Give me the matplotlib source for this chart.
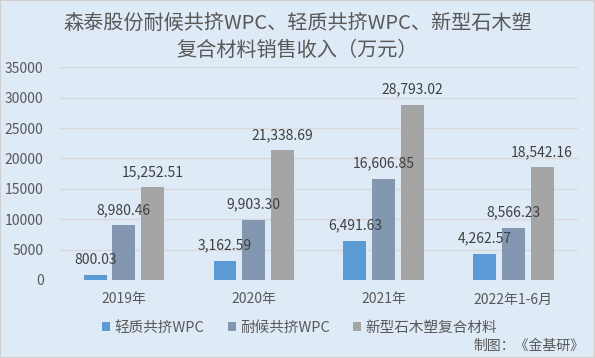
import numpy as np
import matplotlib
matplotlib.use('Agg')
import matplotlib.pyplot as plt
from matplotlib.patches import Rectangle

plt.rcParams['font.family'] = ['Noto Sans CJK SC', 'DejaVu Sans']

years = ['2019年', '2020年', '2021年', '2022年1-6月']
light = [800.03, 3162.59, 6491.63, 4262.57]
weather = [8980.46, 9903.30, 16606.85, 8566.23]
newwood = [15252.51, 21338.69, 28793.02, 18542.16]
names = ['轻质共挤WPC', '耐候共挤WPC', '新型石木塑复合材料']
colors = ['#5B9BD5', '#8497B0', '#A5A5A5']
bg = '#DEEAF6'
txt = '#595959'

fig = plt.figure(figsize=(5.95, 3.58), dpi=100, facecolor=bg)
ax = fig.add_axes([0.099, 0.218, 0.873, 0.594])
ax.set_facecolor(bg)

x = np.arange(len(years))
w = 0.177
step = 0.221
for i, (vals, name, c) in enumerate(zip([light, weather, newwood], names, colors)):
    pos = x + (i - 1) * step
    ax.bar(pos, vals, width=w, color=c, label=name, zorder=3)
    for xx, v in zip(pos, vals):
        ax.annotate(f'{v:,.2f}', (xx, v), xytext=(0, 6), textcoords='offset points',
                    ha='center', va='bottom', fontsize=10, color='#404040', zorder=6)

ax.set_ylim(0, 35000)
ax.set_xlim(-0.5, 3.5)
ax.set_yticks(np.arange(0, 35001, 5000))
ax.yaxis.grid(True, color='#D9D9D9', linewidth=1, zorder=0)
ax.set_axisbelow(True)
for s in ax.spines.values():
    s.set_visible(False)
ax.tick_params(axis='both', length=0, labelsize=10, colors=txt)
ax.tick_params(axis='y', pad=11)
ax.tick_params(axis='x', pad=9)
ax.set_xticks(x)
ax.set_xticklabels(years)

fig.text(0.5, 0.898, '森泰股份耐候共挤WPC、轻质共挤WPC、新型石木塑\n复合材料销售收入（万元）',
         ha='center', va='center', fontsize=14.5, color=txt, linespacing=1.38)

fig.legend(loc='center', bbox_to_anchor=(0.504, 0.084), ncol=3, frameon=False,
           fontsize=10.5, handlelength=0.55, handleheight=0.55, handletextpad=0.3,
           columnspacing=1.6, labelcolor=txt)

fig.text(0.983, 0.034, '制图：《金基研》', ha='right', va='center', fontsize=10, color=txt)

fig.patches.append(Rectangle((0, 0), 1, 1, transform=fig.transFigure, fill=False,
                             edgecolor='#D0D0D0', linewidth=1.5))

fig.savefig('out.png', dpi=100, facecolor=bg)
